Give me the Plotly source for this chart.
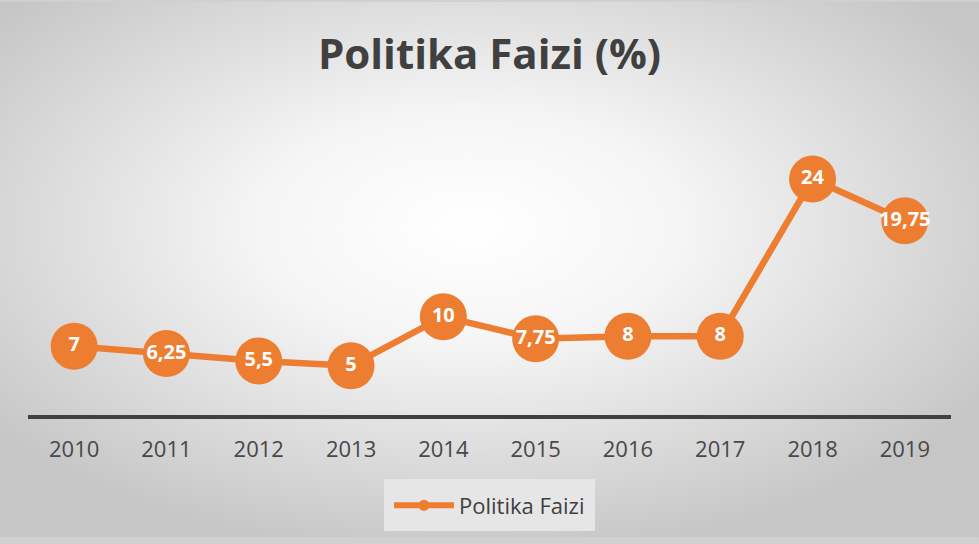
import base64

import plotly.graph_objects as go

years = ["2010", "2011", "2012", "2013", "2014", "2015", "2016", "2017", "2018", "2019"]
rates = [7, 6.25, 5.5, 5, 10, 7.75, 8, 8, 24, 19.75]
series_name = "Politika Faizi"
title_text = "Politika Faizi (%)"

ORANGE = "#ED7D31"
DARK = "#404040"

W, H = 979, 544
L, R, T, B = 28, 28, 120, 124
pw, ph = W - L - R, H - T - B

labels = [f"{v:g}".replace(".", ",") for v in rates]

# radial grey background, as an svg image behind everything
svg = (
    f'<svg xmlns="http://www.w3.org/2000/svg" width="{W}" height="{H}">'
    '<defs><radialGradient id="g" cx="0.48" cy="0.42" r="0.62">'
    '<stop offset="0" stop-color="#ffffff"/>'
    '<stop offset="0.35" stop-color="#f5f5f5"/>'
    '<stop offset="1" stop-color="#c6c6c6"/>'
    '</radialGradient></defs>'
    '<rect width="100%" height="100%" fill="url(#g)"/></svg>'
)
bg_src = "data:image/svg+xml;base64," + base64.b64encode(svg.encode()).decode()

fig = go.Figure()
fig.add_scatter(
    x=years,
    y=rates,
    mode="lines+markers+text",
    text=labels,
    textposition="middle center",
    textfont=dict(family="Open Sans", size=20, color="white", weight="bold"),
    line=dict(color=ORANGE, width=6.5),
    marker=dict(color=ORANGE, size=47),
    cliponaxis=False,
    showlegend=False,
    hoverinfo="x+y",
)
# legend entry with a small marker
fig.add_scatter(
    x=[None],
    y=[None],
    mode="lines+markers",
    name=series_name,
    line=dict(color=ORANGE, width=6),
    marker=dict(color=ORANGE, size=11),
)

fig.update_layout(
    width=W,
    height=H,
    margin=dict(l=L, r=R, t=T, b=B),
    paper_bgcolor="#d0d0d0",
    plot_bgcolor="rgba(0,0,0,0)",
    title=dict(
        text=title_text,
        x=0.5,
        xanchor="center",
        y=1 - 54 / H,
        yanchor="middle",
        font=dict(family="Open Sans", size=42, color=DARK, weight="bold"),
    ),
    images=[
        dict(
            source=bg_src,
            xref="paper",
            yref="paper",
            x=-L / pw,
            y=1 + T / ph,
            sizex=W / pw,
            sizey=H / ph,
            sizing="stretch",
            xanchor="left",
            yanchor="top",
            layer="below",
        )
    ],
    xaxis=dict(
        type="category",
        range=[-0.5, 9.5],
        showgrid=False,
        showline=True,
        linecolor=DARK,
        linewidth=4,
        ticks="",
        ticklabelstandoff=12,
        tickfont=dict(family="Open Sans", size=22, color="#484848"),
        fixedrange=True,
    ),
    yaxis=dict(
        range=[0, 30],
        visible=False,
        fixedrange=True,
    ),
    legend=dict(
        orientation="h",
        x=0.5,
        xanchor="center",
        y=-(512 - (T + ph)) / ph,
        yanchor="middle",
        itemwidth=60,
        bgcolor="#e6e6e6",
        bordercolor="#e6e6e6",
        borderwidth=5,
        font=dict(family="Open Sans", size=22, color=DARK),
    ),
)

fig.write_html(
    "out.html",
    config={"displayModeBar": False},
    post_script="document.body.style.margin='0';",
)
